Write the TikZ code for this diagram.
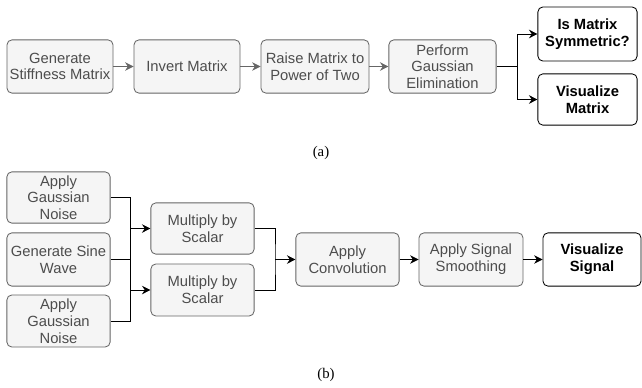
\documentclass[tikz,border=0pt]{standalone}
\usepackage{fontspec}
\setmainfont{Liberation Serif}
\newfontfamily\boxfont{Liberation Sans}
\usetikzlibrary{arrows.meta}

\definecolor{boxfill}{HTML}{F5F5F5}
\definecolor{boxline}{HTML}{666666}
\definecolor{boxtext}{HTML}{4D4D4D}

\begin{document}
\begin{tikzpicture}[x=0.025cm,y=-0.025cm,
	stepbox/.style={draw=boxline, fill=boxfill, text=boxtext, rounded corners=3.5pt,
		line width=0.6pt, align=center, inner sep=0pt,
		font=\boxfont\fontsize{10.5}{11.9}\selectfont},
	outbox/.style={stepbox, draw=black, fill=white, text=black,
		font=\boxfont\bfseries\fontsize{10.5}{11.9}\selectfont},
	grayline/.style={draw=boxline, line width=0.6pt, -{Stealth[length=6pt,width=6pt]}},
	wire/.style={draw=black, line width=0.6pt},
	wirearrow/.style={wire, -{Stealth[length=6pt,width=6pt]}},
	caption/.style={font=\fontsize{10.5}{12}\selectfont}]

	\useasboundingbox (0,0) rectangle (642,387);

	% (a) matrix pipeline
	\node[stepbox, minimum width=2.65cm, minimum height=1.33cm] (genstiff) at (60,66.5) {Generate\\Stiffness Matrix};
	\node[stepbox, minimum width=2.65cm, minimum height=1.33cm] (invert) at (187,66.5) {Invert Matrix};
	\node[stepbox, minimum width=2.7cm, minimum height=1.33cm] (raise) at (315,66.5) {Raise Matrix to\\Power of Two};
	\node[stepbox, minimum width=2.68cm, minimum height=1.33cm] (gauss) at (442.5,66.5) {Perform\\Gaussian\\Elimination};
	\node[outbox, minimum width=2.48cm, minimum height=1.35cm] (symm) at (587.5,34) {Is Matrix\\Symmetric?};
	\node[outbox, minimum width=2.48cm, minimum height=1.28cm] (vismat) at (587.5,99.5) {Visualize\\Matrix};
	\coordinate (splita) at (517,66.5);

	\draw[grayline] (genstiff) -- (invert);
	\draw[grayline] (invert) -- (raise);
	\draw[grayline] (raise) -- (gauss);
	\draw[wire] (gauss.east) -- (splita);
	\draw[wirearrow] (splita) |- (symm.west);
	\draw[wirearrow] (splita) |- (vismat.west);

	\node[caption] (capa) at (321,153) {(a)};

	% (b) signal pipeline
	\node[stepbox, minimum width=2.58cm, minimum height=1.28cm] (noisea) at (58.5,197.5) {Apply\\Gaussian\\Noise};
	\node[stepbox, minimum width=2.58cm, minimum height=1.33cm] (sine) at (58.5,259.5) {Generate Sine\\Wave};
	\node[stepbox, minimum width=2.58cm, minimum height=1.3cm] (noiseb) at (58.5,321) {Apply\\Gaussian\\Noise};
	\node[stepbox, minimum width=2.58cm, minimum height=1.28cm] (scalea) at (202.5,228.5) {Multiply by\\Scalar};
	\node[stepbox, minimum width=2.58cm, minimum height=1.3cm] (scaleb) at (202.5,290) {Multiply by\\Scalar};
	\node[stepbox, minimum width=2.58cm, minimum height=1.33cm] (conv) at (347.5,259.5) {Apply\\Convolution};
	\node[stepbox, minimum width=2.6cm, minimum height=1.33cm] (smooth) at (471,259.5) {Apply Signal\\Smoothing};
	\node[outbox, minimum width=2.45cm, minimum height=1.33cm] (vissig) at (592,259.5) {Visualize\\Signal};
	\coordinate (jointop) at (130,197.5);
	\coordinate (joinbot) at (130,321);
	\coordinate (joinmul) at (275,259.5);

	\draw[wire] (noisea.east) -- (jointop) -- (joinbot) -- (noiseb.east);
	\draw[wire] (sine.east) -- (sine.east -| jointop);
	\draw[wirearrow] (jointop |- scalea.west) -- (scalea.west);
	\draw[wirearrow] (jointop |- scaleb.west) -- (scaleb.west);
	\draw[wire] (scalea.east) -| (joinmul) |- (scaleb.east);
	\draw[wirearrow] (joinmul) -- (conv.west);
	\draw[wirearrow] (conv) -- (smooth);
	\draw[wirearrow] (smooth) -- (vissig);

	\node[caption] (capb) at (326,375) {(b)};

\end{tikzpicture}
\end{document}
